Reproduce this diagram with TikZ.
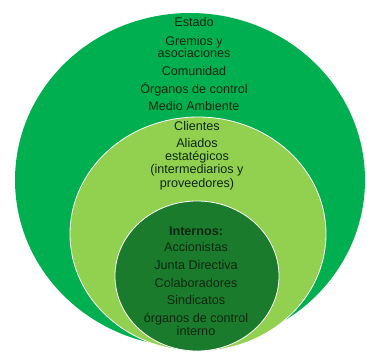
\documentclass[tikz,border=0pt]{standalone}
\usepackage{fontspec}
\setmainfont{Liberation Sans}
\usetikzlibrary{positioning}
\definecolor{outergreen}{HTML}{00B050}
\definecolor{midgreen}{HTML}{92D050}
\definecolor{innergreen}{HTML}{1B7B2D}
\definecolor{labeltext}{RGB}{12,40,16}
\tikzset{ring/.style={draw=white, line width=0.8pt}}

\begin{document}
\begin{tikzpicture}[x=1pt, y=-1pt, item/.style={font=\fontsize{12.6}{12}\selectfont, text=labeltext, align=center, inner sep=0pt, anchor=base}, wide item/.style={item, font=\fontsize{12.6}{13.3}\selectfont}]

    \useasboundingbox (0,0) rectangle (367,354);

    % the three stakeholder rings
    \fill[outergreen] (190,180) ellipse [x radius=175, y radius=167];
    \draw[ring, fill=midgreen] (198,234) ellipse [x radius=128, y radius=117];
    \draw[ring, fill=innergreen] (197,276) ellipse [x radius=82, y radius=75];

    % external (base = last line)
    \node[item] (estado) at (194,26.7) {Estado};
    \node[item] (gremios) at (194,57.7) {Gremios y\\asociaciones};
    \node[item] (comunidad) at (194,75) {Comunidad};
    \node[item] (organos) at (194,93) {Órganos de control};
    \node[item] (medio) at (194,110.7) {Medio Ambiente};

    % clients and allies
    \node[wide item] (clientes) at (197,130.7) {Clientes};
    \node[wide item] (aliados) at (197,187.2) {Aliados\\estatégicos\\(intermediarios y\\proveedores)};

    % internal
    \node[wide item] (internos) at (196,235.7) {\textbf{Internos:}};
    \node[wide item] (accionistas) at (196,251.3) {Accionistas};
    \node[wide item] (junta) at (196,269) {Junta Directiva};
    \node[wide item] (colaboradores) at (196,287.3) {Colaboradores};
    \node[wide item] (sindicatos) at (196,304.7) {Sindicatos};
    \node[wide item] (control) at (196,335.6) {órganos de control\\interno};

\end{tikzpicture}
\end{document}
